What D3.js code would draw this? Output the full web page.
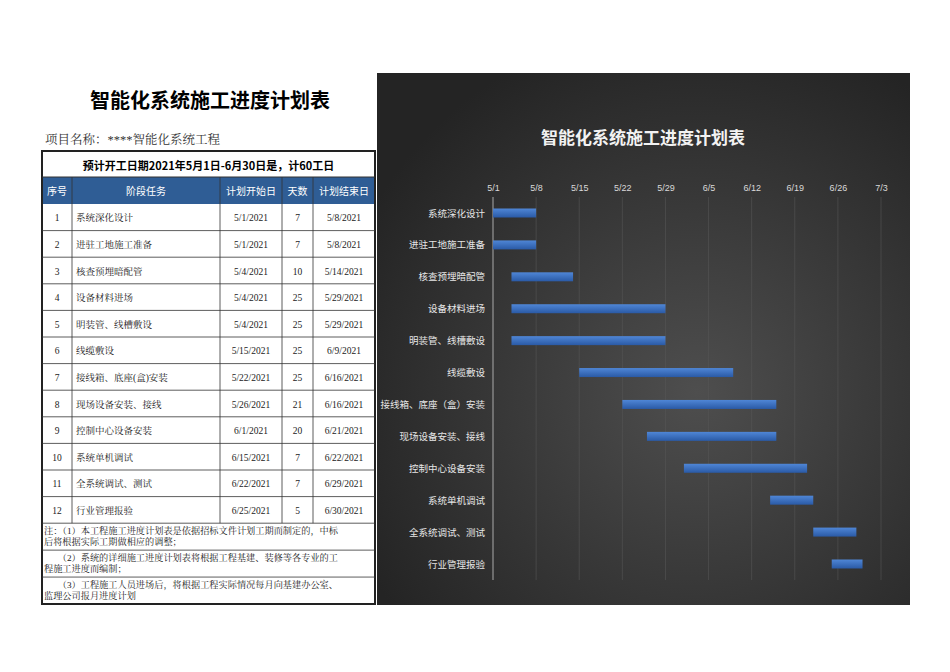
<!DOCTYPE html>
<html><head><meta charset="utf-8">
<script src="https://cdn.jsdelivr.net/npm/d3@7/dist/d3.min.js"></script>
<style>body{margin:0;background:#fff}svg{display:block}</style></head>
<body><svg id="c" width="950" height="672"></svg>
<script>
const ids=[1,2,3,4,5,6,7,8,9,10,11,12];
const tasks=["系统深化设计","进驻工地施工准备","核查预埋暗配管","设备材料进场","明装管、线槽敷设","线缆敷设","接线箱、底座(盒)安装","现场设备安装、接线","控制中心设备安装","系统单机调试","全系统调试、测试","行业管理报验"];
const chartTasks=["系统深化设计","进驻工地施工准备","核查预埋暗配管","设备材料进场","明装管、线槽敷设","线缆敷设","接线箱、底座（盒）安装","现场设备安装、接线","控制中心设备安装","系统单机调试","全系统调试、测试","行业管理报验"];
const starts=["5/1/2021","5/1/2021","5/4/2021","5/4/2021","5/4/2021","5/15/2021","5/22/2021","5/26/2021","6/1/2021","6/15/2021","6/22/2021","6/25/2021"];
const days=[7,7,10,25,25,25,25,21,20,7,7,5];
const ends=["5/8/2021","5/8/2021","5/14/2021","5/29/2021","5/29/2021","6/9/2021","6/16/2021","6/16/2021","6/21/2021","6/22/2021","6/29/2021","6/30/2021"];
const tickLabels=["5/1","5/8","5/15","5/22","5/29","6/5","6/12","6/19","6/26","7/3"];
const notes=[["注：（1）本工程施工进度计划表是依据招标文件计划工期而制定的，中标","后将根据实际工期做相应的调整；"],["　　（2）系统的详细施工进度计划表将根据工程基建、装修等各专业的工","程施工进度而编制；"],["　　（3）工程施工人员进场后，将根据工程实际情况每月向基建办公室、","监理公司报月进度计划"]];

const svg=d3.select("#c");
const serif="'Liberation Serif','Noto Serif CJK SC','Noto Sans CJK SC',serif";
const sans="'Noto Sans CJK SC',sans-serif";
// ---- table
svg.append("text").attr("x",210).attr("y",108).attr("text-anchor","middle").attr("font-family",sans).attr("font-weight","bold").attr("font-size",20).text("智能化系统施工进度计划表");
svg.append("text").attr("x",45).attr("y",144).attr("font-family",serif).attr("font-size",12.5).attr("fill","#333").text("项目名称：****智能化系统工程");
const L=42,R=375,T=151;
const colX=[42,72,220,282,313,375];
svg.append("rect").attr("x",L).attr("y",T).attr("width",R-L).attr("height",604-T).attr("fill","none").attr("stroke","#222").attr("stroke-width",2);
svg.append("text").attr("x",(L+R)/2).attr("y",170).attr("text-anchor","middle").attr("font-family",sans).attr("font-weight","bold").attr("font-size",11).text("预计开工日期2021年5月1日-6月30日是，计60工日");
svg.append("rect").attr("x",L+1).attr("y",177).attr("width",R-L-2).attr("height",27).attr("fill","#2f5d95");
const heads=["序号","阶段任务","计划开始日","天数","计划结束日"];
heads.forEach((h,i)=>svg.append("text").attr("x",(colX[i]+colX[i+1])/2).attr("y",195).attr("text-anchor","middle").attr("fill","#fff").attr("font-family",sans).attr("font-size",10).text(h));
const rowH=26.6, r0=204;
const y0=d3.scaleLinear().domain([0,1]).range([r0,r0+rowH]);
ids.forEach((id,i)=>{
  const y=y0(i), cy=y+rowH/2+4;
  svg.append("line").attr("x1",L).attr("x2",R).attr("y1",y+rowH).attr("y2",y+rowH).attr("stroke","#333").attr("stroke-width",0.8);
  const vals=[id,tasks[i],starts[i],days[i],ends[i]];
  vals.forEach((v,k)=>svg.append("text").attr("x",k==1?colX[1]+4:(colX[k]+colX[k+1])/2).attr("y",cy).attr("text-anchor",k==1?"start":"middle").attr("font-family",serif).attr("font-size",9.5).attr("fill","#222").text(v));
});
[1,2,3,4].forEach(k=>svg.append("line").attr("x1",colX[k]).attr("x2",colX[k]).attr("y1",177).attr("y2",y0(12)).attr("stroke","#333").attr("stroke-width",0.8));
svg.append("line").attr("x1",L).attr("x2",R).attr("y1",177).attr("y2",177).attr("stroke","#333");
const nb=y0(12), nh=(604-nb)/3;
notes.forEach((n,i)=>{
  const y=nb+nh*i;
  if(i>0) svg.append("line").attr("x1",L).attr("x2",R).attr("y1",y).attr("y2",y).attr("stroke","#333").attr("stroke-width",0.8);
  n.forEach((t,j)=>svg.append("text").attr("x",L+2).attr("y",y+11+j*11).attr("font-family",serif).attr("font-size",9.2).attr("fill","#222").text(t));
});
// ---- chart
const defs=svg.append("defs");
const rg=defs.append("radialGradient").attr("id","bg").attr("cx","0.6").attr("cy","0.6").attr("r","0.7");
rg.append("stop").attr("offset","0").attr("stop-color","#4e4e4e");
rg.append("stop").attr("offset","1").attr("stop-color","#242424");
const bgG=defs.append("linearGradient").attr("id","bar").attr("x1",0).attr("x2",0).attr("y1",0).attr("y2",1);
bgG.append("stop").attr("offset","0").attr("stop-color","#4f86d6");
bgG.append("stop").attr("offset","1").attr("stop-color","#2a5aa6");
svg.append("rect").attr("x",377).attr("y",73).attr("width",533).attr("height",532).attr("fill","url(#bg)");
svg.append("text").attr("x",643).attr("y",144).attr("text-anchor","middle").attr("fill","#f2f2f2").attr("font-family",sans).attr("font-weight","bold").attr("font-size",17).text("智能化系统施工进度计划表");
const parse=d3.timeParse("%m/%d/%Y");
const x=d3.scaleUtc().domain([Date.UTC(2021,4,1),Date.UTC(2021,6,3)]).range([493,881]);
const y=d3.scalePoint().domain(chartTasks).range([213,564]);
const tickDates=tickLabels.map(s=>{const [m,d]=s.split("/").map(Number);return Date.UTC(2021,m-1,d);});
const ax=svg.append("g").attr("transform","translate(0,195)").call(d3.axisTop(x).tickValues(tickDates).tickFormat((d,i)=>tickLabels[i]).tickSize(0));
ax.select(".domain").remove();
ax.selectAll("text").attr("fill","#d9d9d9").attr("font-family","'Liberation Sans',sans-serif").attr("font-size",9).attr("dy","-0.1em");
svg.selectAll(".gl").data(tickDates).join("line").attr("x1",d=>x(d)).attr("x2",d=>x(d)).attr("y1",197).attr("y2",580).attr("stroke",(d,i)=>i==0?"#aaa":"#555").attr("stroke-width",(d,i)=>i==0?1:0.6);
const ay=svg.append("g").attr("transform","translate(488,0)").call(d3.axisLeft(y).tickSize(0));
ay.select(".domain").remove();
ay.selectAll("text").attr("fill","#e6e6e6").attr("font-family",sans).attr("font-size",9.5);
const utc=s=>{const d=parse(s);return Date.UTC(d.getFullYear(),d.getMonth(),d.getDate());};
svg.selectAll(".bar").data(chartTasks).join("rect").attr("x",(d,i)=>x(utc(starts[i]))).attr("y",d=>y(d)-4.5).attr("height",9)
  .attr("width",(d,i)=>x(utc(ends[i]))-x(utc(starts[i]))).attr("fill","url(#bar)");
</script></body></html>
